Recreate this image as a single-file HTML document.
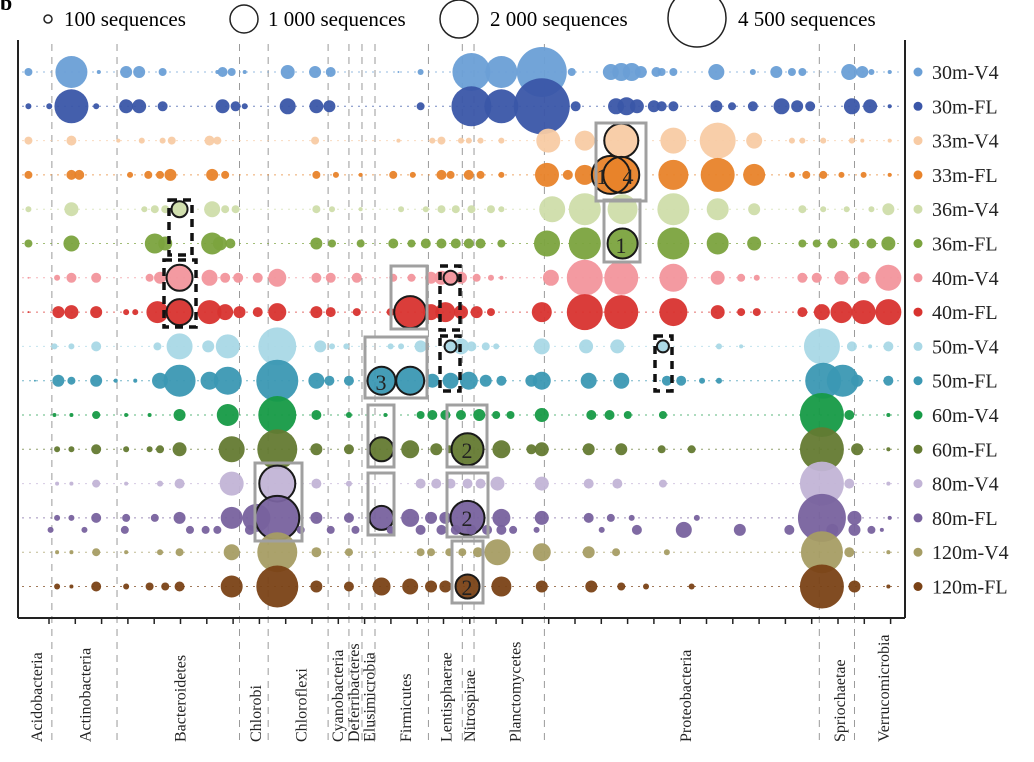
<!DOCTYPE html>
<html><head><meta charset="utf-8">
<style>
html,body{margin:0;padding:0;background:#fff;}
svg{display:block;font-family:"Liberation Serif",serif;}
</style></head>
<body>
<svg id="chart" width="1034" height="762" viewBox="0 0 1034 762" xmlns="http://www.w3.org/2000/svg">
  <text x="0" y="10" font-size="22" font-weight="bold">b</text>
  <g id="size-legend">
    <circle cx="48" cy="19" r="4" fill="none" stroke="#222" stroke-width="1.5"/>
    <text x="64" y="26" font-size="21">100 sequences</text>
    <circle cx="244" cy="19" r="14" fill="none" stroke="#222" stroke-width="1.5"/>
    <text x="268" y="26" font-size="21">1 000 sequences</text>
    <circle cx="459" cy="19" r="19" fill="none" stroke="#222" stroke-width="1.5"/>
    <text x="490" y="26" font-size="21">2 000 sequences</text>
    <circle cx="697" cy="18" r="29" fill="none" stroke="#222" stroke-width="1.5"/>
    <text x="738" y="26" font-size="21">4 500 sequences</text>
  </g>
  <g id="grid"></g>
  <g id="marks"></g>
  <g id="annot"></g>
  <g id="axes"></g>
  <g id="legend"></g>
</svg>
<script>
const NS = "http://www.w3.org/2000/svg";
// ---- data ----
const samples = ["30m-V4","30m-FL","33m-V4","33m-FL","36m-V4","36m-FL","40m-V4","40m-FL","50m-V4","50m-FL","60m-V4","60m-FL","80m-V4","80m-FL","120m-V4","120m-FL"];
const sampleColors = ["#6a9fd6","#3a56a8","#f8cba4","#e8832a","#cfddaa","#7ba33e","#f2959c","#d8332f","#a9d8e6","#3b98b3","#169a46","#647a31","#c2b4d6","#78629e","#a69d64","#7a4216"];
const phyla = ["Acidobacteria","Actinobacteria","Bacteroidetes","Chlorobi","Chloroflexi","Cyanobacteria","Deferribacteres","Elusimicrobia","Firmicutes","Lentisphaerae","Nitrospirae","Planctomycetes","Proteobacteria","Spriochaetae","Verrucomicrobia"];
const phylumLabelPos = [1.4,5.1,12.4,18.2,21.7,24.5,25.7,26.9,29.7,32.8,34.6,38.1,51.2,63.0,66.4];
const phylumBounds = [2.6,7.6,17.0,19.2,23.8,25.4,26.4,27.4,31.5,34.1,35.0,40.4,61.5,64.2];
// each point: [genus position, sequences, ring flag]
const row0 = [[0.8,87],[4.1,1385],[6.2,22],[8.3,195],[9.3,195],[11.1,87],[15.3,22],[15.7,135],[16.4,87],[17.4,22],[20.7,265],[22.8,195],[24.0,135],[29.2,5],[30.9,49],[34.8,1952],[37.1,1385],[40.2,3380],[42.5,87],[45.5,346],[46.3,438],[47.1,438],[47.8,195],[49.0,135],[49.4,87],[50.3,87],[53.6,346],[56.4,49],[58.2,195],[59.4,87],[60.2,87],[63.8,346],[64.8,195],[65.5,49],[66.9,22]];
const row1 = [[0.8,49],[2.4,49],[4.1,1563],[6.0,49],[8.3,265],[9.3,265],[11.1,135],[15.7,265],[16.7,135],[17.4,49],[20.7,346],[22.9,265],[23.9,195],[30.9,87],[34.8,2163],[37.1,1563],[40.2,4240],[42.8,135],[45.9,346],[46.7,438],[47.5,265],[48.8,195],[49.4,135],[50.3,135],[53.6,195],[54.8,87],[56.4,135],[58.6,346],[59.8,195],[60.8,135],[64.0,346],[65.4,265],[66.9,22]];
const row2 = [[0.8,87],[4.1,135],[7.7,22],[9.5,49],[11.1,49],[11.8,87],[14.7,135],[15.3,87],[22.8,87],[29.2,22],[31.8,49],[32.5,87],[34.0,49],[34.6,49],[35.5,49],[37.1,49],[40.7,779],[43.5,541],[46.3,1563,1],[50.3,914],[53.7,1752],[56.5,346],[59.4,49],[60.2,49],[61.8,49],[64.0,49],[64.8,22],[66.9,22]];
const row3 = [[0.8,87],[4.1,135],[4.7,135],[8.6,49],[10.0,87],[10.9,87],[11.7,195],[14.9,195],[15.9,87],[22.9,87],[24.4,49],[26.3,22],[28.8,87],[30.3,49],[32.5,135],[33.2,87],[34.6,135],[35.5,87],[37.1,49],[40.6,779],[42.2,135],[43.5,541],[45.5,1952,1],[46.3,1752,1],[50.3,1217],[53.7,1563],[56.5,654],[59.4,49],[60.5,87],[61.8,87],[63.2,49],[64.9,49],[66.9,22]];
const row4 = [[0.8,49],[4.1,265],[9.7,49],[10.5,87],[11.3,87],[12.4,346,1],[14.9,346],[15.9,87],[16.7,87],[22.9,87],[24.1,49],[26.3,22],[29.4,49],[31.3,49],[32.5,87],[33.6,87],[34.8,87],[36.3,87],[37.1,49],[41.0,914],[43.5,1385],[46.4,1217],[50.3,1385],[53.7,654],[56.5,195],[60.2,87],[61.8,49],[63.6,49],[65.5,49],[66.8,195]];
const row5 = [[0.8,87],[4.1,346],[10.5,541],[11.3,265],[14.9,654],[15.5,265],[16.3,135],[22.9,195],[24.1,87],[26.3,87],[28.8,135],[30.2,87],[31.3,135],[32.5,135],[33.6,135],[34.6,135],[35.5,135],[37.1,87],[40.6,914],[43.5,1385],[46.4,1217,1],[50.3,1385],[53.7,654],[56.5,265],[60.2,87],[61.3,87],[62.5,135],[64.2,135],[65.5,135],[66.8,265]];
const row6 = [[0.8,5],[3.0,49],[4.1,135],[6.0,135],[10.1,87],[10.9,195],[12.4,914,1],[14.7,346],[15.9,135],[16.9,135],[18.4,135],[19.9,438],[22.9,135],[24.0,135],[26.0,135],[28.8,87],[30.2,87],[31.7,195],[32.5,265],[33.2,265,1],[34.0,195],[35.2,87],[36.3,49],[37.1,22],[40.9,346],[43.5,1752],[46.3,1563],[50.3,1060],[53.7,265],[55.5,87],[56.7,49],[60.2,135],[61.3,135],[63.2,265],[64.9,195],[66.8,914]];
const row7 = [[0.8,5],[3.1,195],[4.1,265],[6.0,195],[8.3,49],[9.0,49],[10.7,654],[12.4,914,1],[14.7,779],[15.9,346],[17.0,195],[18.4,135],[19.9,438],[22.9,195],[24.0,135],[26.0,87],[28.6,87],[30.1,1385,1],[31.7,346],[32.8,541],[34.0,265],[35.2,195],[36.3,87],[40.2,541],[43.5,1752],[46.3,1563],[50.3,1060],[53.7,265],[55.5,87],[56.7,87],[60.2,135],[61.7,346],[63.2,654],[64.9,779],[66.8,914]];
const row8 = [[2.8,49],[4.1,49],[6.0,135],[10.7,87],[12.4,914],[14.6,195],[16.1,779],[19.9,1952],[23.2,195],[24.1,49],[25.2,49],[28.6,49],[29.4,49],[30.9,195],[33.2,195,1],[34.0,346],[34.8,135],[35.9,87],[36.7,49],[40.2,346],[43.6,265],[46.0,265],[49.5,195,1],[53.8,49],[55.5,22],[61.7,1752],[64.0,135],[65.4,22],[66.8,135]];
const row9 = [[1.3,5],[3.1,195],[4.1,87],[6.0,195],[7.5,22],[9.0,22],[10.9,346],[12.4,1385],[14.7,438],[16.1,1060],[19.9,2385],[22.9,346],[23.9,135],[25.4,135],[27.9,1060,1],[30.1,1060,1],[31.8,265],[33.2,346],[34.6,438],[35.9,195],[37.1,135],[39.4,195],[40.2,438],[43.8,346],[46.3,346],[49.8,135],[50.9,135],[52.5,49],[53.8,49],[61.8,1752],[63.3,1385],[64.4,195],[66.8,135]];
const row10 = [[2.8,22],[4.1,22],[6.0,87],[8.3,22],[10.1,22],[12.4,195],[16.1,654],[19.9,1952],[22.9,135],[25.4,49],[28.2,22],[30.9,87],[31.8,135],[32.8,135],[34.0,135],[35.4,195],[36.7,87],[37.8,87],[40.2,265],[44.0,135],[45.4,135],[46.8,87],[49.5,87],[61.7,2618],[63.8,135],[66.8,22]];
const row11 = [[3.0,49],[4.1,49],[6.0,135],[8.3,49],[10.1,49],[10.9,87],[12.4,265],[16.4,914],[19.9,2163],[22.9,195],[25.4,135],[27.9,779,1],[30.1,438],[32.1,195],[33.1,87],[34.5,1385,1],[37.1,438],[39.4,135],[40.2,265],[43.8,195],[46.3,195],[49.4,87],[51.7,87],[61.7,2618],[64.4,195],[66.8,22]];
const row12 = [[3.0,22],[4.1,22],[6.0,87],[8.3,22],[10.9,49],[12.4,135],[16.4,779],[19.9,1752,1],[22.9,135],[25.4,49],[30.9,135],[32.1,135],[33.2,135],[34.5,135],[35.5,135],[36.8,265],[40.2,265],[43.8,135],[46.0,135],[49.5,87],[61.7,2618],[63.8,135],[66.8,22]];
const row13 = [[3.0,49],[4.1,49],[6.0,135],[8.3,87],[10.5,87],[12.4,195],[16.4,654],[18.3,1060],[19.9,2618,1],[22.9,195],[25.4,135],[27.9,779,1],[30.1,438],[31.7,195],[32.8,195],[34.5,1563,1],[37.1,438],[40.2,265],[43.8,135],[45.5,87],[47.1,49],[52.1,49],[61.7,3115],[64.2,265],[66.9,22]];
const row13b = [[2.5,49],[5.1,49],[8.2,87],[13.2,87],[14.4,87],[15.3,87],[17.8,135],[21.7,87],[24.0,87],[25.9,87],[28.6,87],[30.9,135],[32.5,135],[33.6,135],[34.8,135],[36.0,135],[37.1,135],[38.0,87],[39.8,49],[44.8,49],[47.5,135],[51.1,346],[55.4,195],[59.2,135],[62.5,195],[64.2,195],[65.5,87],[66.3,22]];
const row14 = [[3.0,22],[4.1,22],[6.0,87],[8.3,22],[10.9,49],[12.4,87],[16.4,346],[19.9,2163],[22.9,135],[25.4,87],[30.9,87],[31.7,87],[33.1,87],[34.1,87],[35.3,135],[36.8,914],[40.2,438],[43.8,195],[45.9,87],[49.8,49],[61.7,2385],[63.8,135],[66.8,22]];
const row15 = [[3.0,49],[4.1,22],[6.0,135],[8.3,49],[10.1,87],[11.3,87],[12.4,135],[16.4,654],[19.9,2385],[22.9,195],[25.4,135],[27.9,438],[30.1,346],[31.7,195],[32.8,195],[34.5,779,1],[37.1,541],[40.2,195],[44.0,195],[46.3,87],[48.2,49],[51.7,49],[61.7,2618],[64.2,195],[66.8,22]];
const rows = [row0,row1,row2,row3,row4,row5,row6,row7,row8,row9,row10,row11,row12,row13,row14,row15];

// ---- scales ----
const X0 = 18, X1 = 904, DOMAIN = 68;
function xScale(v){ return X0 + v*(X1-X0)/DOMAIN; }
const Y0 = 72, YSTEP = 34.3;
function yScale(i){ return Y0 + i*YSTEP; }
function rScale(n){ return 0.43*Math.sqrt(n); }

function el(tag, attrs, parent){
  const e = document.createElementNS(NS, tag);
  for (const k in attrs) e.setAttribute(k, attrs[k]);
  parent.appendChild(e);
  return e;
}
const grid = document.getElementById('grid');
const marks = document.getElementById('marks');
const axes = document.getElementById('axes');
const legend = document.getElementById('legend');
const annot = document.getElementById('annot');

phylumBounds.forEach((b)=>{
  const l = el('line',{x1:xScale(b),x2:xScale(b),y1:44,y2:745,stroke:'#9a9a9a','stroke-width':1,'stroke-dasharray':'7,6'},grid);
  
  
});
samples.forEach((s,i)=>{
  const l = el('line',{x1:22,x2:900,y1:yScale(i),y2:yScale(i),stroke:sampleColors[i],'stroke-width':1,'stroke-dasharray':'2,5',opacity:0.7},grid);
  
  
});

function drawRow(pts, y, color, name){
  const g = el('g',{},marks);
  
  
  pts.forEach(p=>{
    const c = el('circle',{cx:xScale(p[0]),cy:y,r:rScale(p[1]),fill:color,'fill-opacity':0.95},g);
    
    
  });
  pts.forEach(p=>{
    if (p[2]) {
      const rg = el('circle',{cx:xScale(p[0]),cy:y,r:rScale(p[1]),fill:'none',stroke:'#1a1a1a','stroke-width':2},g);
      
      
    }
  });
}
rows.forEach((r,i)=>{
  drawRow(r, yScale(i), sampleColors[i], samples[i]);
  if (i===13) drawRow(row13b, yScale(i)+12, sampleColors[i], samples[i]+'-extra');
});

const grayBoxes = [[596,123,50,78],[604,200,36,62],[391,266,36,63],[365,337,62,61],[368,405,26,62],[368,473,26,62],[447,405,40,62],[447,473,41,64],[452,541,31,62],[255,463,47,78]];
grayBoxes.forEach(b=>{
  const r = el('rect',{x:b[0],y:b[1],width:b[2],height:b[3],fill:'none',stroke:'#a0a0a0','stroke-width':3},annot);
  
  
});
const dashBoxes = [[169,200,23,55],[164,260,32,67],[440,266,20,64],[440,336,20,55],[655,336,17,55]];
dashBoxes.forEach(b=>{
  const r = el('rect',{x:b[0],y:b[1],width:b[2],height:b[3],fill:'none',stroke:'#111','stroke-width':3.5,'stroke-dasharray':'8,6'},annot);
  
  
});
const nums = [["1",602,184],["4",628,184],["1",621,253],["3",381,390],["2",467,458],["2",467,526],["2",467,595]];
nums.forEach(n=>{
  const t = el('text',{x:n[1],y:n[2],'font-size':22,'text-anchor':'middle',fill:'#222'},annot);
  t.textContent = n[0];
  
  
});

const frame = [[18,40,18,618],[18,618,905,618],[905,40,905,618]];
frame.forEach(f=>{
  const l = el('line',{x1:f[0],y1:f[1],x2:f[2],y2:f[3],stroke:'#222','stroke-width':2},axes);
  
  
});
for (let k=0;k<=32;k++){
  const x = 49 + k*26.3;
  const t = el('line',{x1:x,x2:x,y1:618,y2:624,stroke:'#222','stroke-width':1.5},axes);
  
  
}
phyla.forEach((p,i)=>{
  const x = xScale(phylumLabelPos[i]);
  const t = el('text',{x:0,y:0,'font-size':16,transform:'translate('+(x+6)+',742) rotate(-90)',fill:'#222'},axes);
  t.textContent = p;
  
  
});

samples.forEach((s,i)=>{
  const y = yScale(i);
  const c = el('circle',{cx:918,cy:y,r:4.5,fill:sampleColors[i]},legend);
  
  
  const t = el('text',{x:932,y:y+7,'font-size':20,fill:'#222'},legend);
  t.textContent = s;
  
  
});
</script>
</body></html>
